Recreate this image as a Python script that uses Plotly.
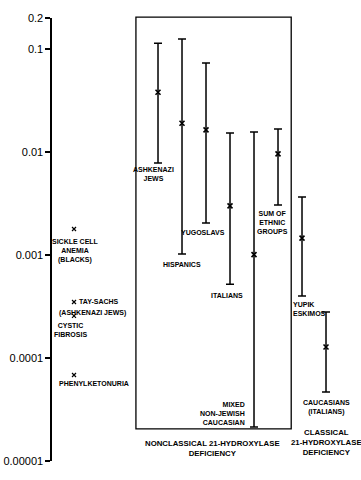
import math
import plotly.graph_objects as go

# ---- data ----
groups = ["ASHKENAZI JEWS", "HISPANICS", "YUGOSLAVS", "ITALIANS",
          "MIXED NON-JEWISH CAUCASIAN", "SUM OF ETHNIC GROUPS",
          "YUPIK ESKIMOS", "CAUCASIANS (ITALIANS)"]
est = [0.038, 0.019, 0.0164, 0.0030, 0.00101, 0.0096, 0.00146, 0.000128]
upper = [0.114, 0.125, 0.073, 0.0153, 0.0156, 0.0167, 0.00366, 0.00028]
lower = [0.0078, 0.00102, 0.00205, 0.00052, 0.0000214, 0.00305, 0.00040, 0.0000468]

diseases = ["SICKLE CELL ANEMIA (BLACKS)", "TAY-SACHS (ASHKENAZI JEWS)",
            "CYSTIC FIBROSIS", "PHENYLKETONURIA"]
disease_freq = [0.00179, 0.00035, 0.000256, 0.0000684]

tick_vals = [0.00001, 0.0001, 0.001, 0.01, 0.1, 0.2]
tick_text = ["0.00001", "0.0001", "0.001", "0.01", "0.1", "0.2"]

# ---- layout helpers ----
xpos = list(range(len(groups)))
left_x = -3.5
FONT = "Liberation Sans, Arial, sans-serif"
lab_font = dict(family=FONT, size=7, color="black", weight="bold")

L = math.log10
YMIN, YMAX = -5, L(0.2)

def to_paper(v):
    return (L(v) - YMIN) / (YMAX - YMIN)

fig = go.Figure()

fig.add_trace(go.Scatter(
    x=xpos, y=est, mode="markers",
    marker=dict(symbol="x-thin", size=5, color="black",
                line=dict(width=1.6, color="black")),
    error_y=dict(type="data", symmetric=False,
                 array=[u - e for u, e in zip(upper, est)],
                 arrayminus=[e - l for e, l in zip(est, lower)],
                 color="black", thickness=1.5, width=4),
    hoverinfo="skip", showlegend=False, cliponaxis=False))

fig.add_trace(go.Scatter(
    x=[left_x] * len(disease_freq), y=disease_freq, mode="markers",
    marker=dict(symbol="x-thin", size=4, color="black",
                line=dict(width=1.2, color="black")),
    hoverinfo="skip", showlegend=False, cliponaxis=False))

ann = []

def add(text, x, y, xanchor="center", yanchor="top", xshift=0, yshift=0,
        align="center", font=lab_font, xref="x", yref="y"):
    ann.append(dict(text=text, x=x, y=y, xref=xref, yref=yref,
                    xanchor=xanchor, yanchor=yanchor, xshift=xshift,
                    yshift=yshift, align=align, showarrow=False, font=font))

# error bar group labels
add("ASHKENAZI<br>JEWS", 0, L(lower[0]), xshift=-5, yshift=-1)
add("HISPANICS", 1, L(lower[1]), yshift=-5)
add("YUGOSLAVS", 2, L(lower[2]), xshift=-3, yshift=-4)
add("ITALIANS", 3, L(lower[3]), xshift=-3, yshift=-6)
add("MIXED<br>NON-JEWISH<br>CAUCASIAN", 4, L(lower[4]), xanchor="right",
    yanchor="bottom", xshift=-7, yshift=-1, align="right")
add("SUM OF<br>ETHNIC<br>GROUPS", 5, L(lower[5]), xshift=-6, yshift=-3)
add("YUPIK<br>ESKIMOS", 6, L(lower[6]), xanchor="left", xshift=-11,
    yshift=-3, align="left")
add("CAUCASIANS<br>(ITALIANS)", 7, L(lower[7]), yshift=-5)

# single-value diseases
add("SICKLE CELL<br>ANEMIA<br>(BLACKS)", left_x, L(disease_freq[0]),
    xshift=1, yshift=-7)
add("TAY-SACHS", left_x, L(disease_freq[1]), xanchor="left",
    yanchor="middle", xshift=3)
add("(ASHKENAZI JEWS)", left_x, L(disease_freq[1]), xanchor="left",
    yanchor="middle", xshift=-17, yshift=-11)
add("CYSTIC<br>FIBROSIS", left_x, L(disease_freq[2]), xshift=-4, yshift=-4)
add("PHENYLKETONURIA", left_x, L(disease_freq[3]), xanchor="left",
    xshift=-17, yshift=-3)

big_font = dict(family=FONT, size=7.8, color="black", weight="bold")
add("NONCLASSICAL 21-HYDROXYLASE<br>DEFICIENCY", 2.25, L(lower[4]),
    yshift=-10, font=big_font)
add("CLASSICAL<br>21-HYDROXYLASE<br>DEFICIENCY", 7, L(lower[7]),
    yshift=-34, font=big_font)

fig.add_shape(type="rect", xref="x", yref="paper",
              x0=-0.92, x1=5.55, y0=to_paper(0.0000205), y1=1.002,
              line=dict(color="black", width=1.3),
              fillcolor="rgba(0,0,0,0)")

fig.update_layout(
    width=361, height=480,
    margin=dict(l=52, r=0, t=18, b=19),
    paper_bgcolor="white", plot_bgcolor="white",
    annotations=ann,
    xaxis=dict(visible=False, range=[-4.417, 8.458]),
    yaxis=dict(type="log", range=[YMIN, YMAX], automargin=False,
               tickvals=tick_vals, ticktext=tick_text,
               ticks="outside", ticklen=5, tickwidth=1.4, tickcolor="black",
               showline=True, linewidth=1.6, linecolor="black",
               showgrid=False, zeroline=False,
               tickfont=dict(family="Liberation Sans, Arial, sans-serif",
                             size=11, color="black")),
)

fig.write_html(
    "out.html",
    config={"displayModeBar": False, "staticPlot": True},
    post_script="document.body.style.margin='0px';"
                "document.body.style.overflow='hidden';")
